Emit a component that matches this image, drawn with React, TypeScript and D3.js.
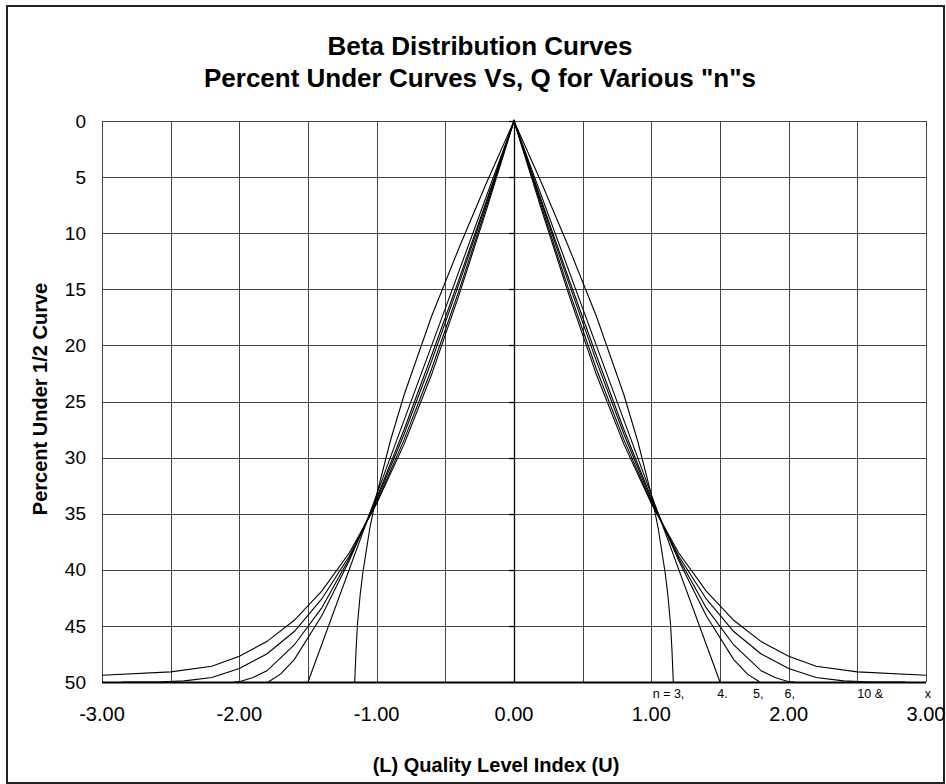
import * as d3 from "d3";

// quality index (Q) and percent under the half curve (right half; left is the mirror)
const q3 = [0, 0.2, 0.4, 0.6, 0.8, 0.9, 1.0, 1.05, 1.1, 1.12, 1.14, 1.15, 1.16];
const p3 = [0, 5.5, 11.3, 17.4, 24.4, 28.5, 33.3, 36.3, 40.2, 42.2, 44.9, 47.1, 50];

const q4 = [0, 0.5, 1.0, 1.5];
const p4 = [0, 16.7, 33.3, 50];

const q5 = [0, 0.2, 0.4, 0.6, 0.8, 1.0, 1.2, 1.4, 1.6, 1.7, 1.79];
const p5 = [0, 7.1, 14.1, 20.9, 27.5, 33.6, 39.2, 44.1, 48.0, 49.3, 50];

const q6 = [0, 0.2, 0.4, 0.6, 0.8, 1.0, 1.2, 1.4, 1.6, 1.8, 1.9, 2.0, 2.04];
const p6 = [0, 7.3, 14.5, 21.4, 27.9, 33.8, 39.0, 43.4, 46.7, 49.0, 49.6, 49.97, 50];

const q10 = [0, 0.2, 0.4, 0.6, 0.8, 1.0, 1.2, 1.4, 1.6, 1.8, 2.0, 2.2, 2.4, 2.6, 2.85];
const p10 = [0, 7.6, 15.1, 22.1, 28.4, 34.0, 38.8, 42.6, 45.5, 47.5, 48.8, 49.6, 49.9, 50, 50];

const qInf = [0, 0.2, 0.4, 0.6, 0.8, 1.0, 1.2, 1.4, 1.6, 1.8, 2.0, 2.2, 2.5, 3.0];
const pInf = [0, 7.9, 15.5, 22.6, 28.8, 34.1, 38.5, 41.9, 44.5, 46.4, 47.7, 48.6, 49.1, 49.4];

const curveQs = [q3, q4, q5, q6, q10, qInf];
const curvePs = [p3, p4, p5, p6, p10, pInf];

const xTickLabels = [-3, -2, -1, 0, 1, 2, 3];
const nLabels = ["n = 3,", "4.", "5,", "6,", "10 &", "x"];
const nLabelQ = [1.01, 1.48, 1.74, 1.97, 2.5, 2.99];

const FONT = "'Liberation Sans', Arial, Helvetica, sans-serif";

const W = 946;
const H = 784;
const margin = { left: 102, right: 926, top: 121, bottom: 682 };

export default function App() {
  const x = d3.scaleLinear().domain([-3, 3]).range([margin.left, margin.right]);
  const y = d3.scaleLinear().domain([0, 50]).range([margin.top, margin.bottom]);
  const xGrid = x.ticks(12);
  const yTicks = y.ticks(10);

  const line = d3
    .line<[number, number]>()
    .x((d) => x(d[0]))
    .y((d) => y(d[1]));

  // mirror each half curve onto the negative side
  const curves = curveQs.map((qs, i) => {
    const ps = curvePs[i];
    const right = qs.map((q, j) => [q, ps[j]] as [number, number]);
    const left = right.slice(1).map(([q, p]) => [-q, p] as [number, number]).reverse();
    return [...left, ...right];
  });

  return (
    <svg
      width={W}
      height={H}
      style={{ position: "absolute", left: 0, top: 0, background: "#fff" }}
      fontFamily={FONT}
    >
      {/* chart border */}
      <rect x={7} y={6} width={937} height={777} fill="none" stroke="#222" strokeWidth={2} />

      {/* title */}
      <text x={480} y={55} textAnchor="middle" fontSize={26} fontWeight="bold">
        Beta Distribution Curves
      </text>
      <text x={480} y={87} textAnchor="middle" fontSize={26} fontWeight="bold">
        Percent Under Curves Vs, Q for Various "n"s
      </text>

      {/* grid */}
      {xGrid.map((t) => (
        <line
          key={"gx" + t}
          x1={Math.round(x(t)) + 0.5}
          x2={Math.round(x(t)) + 0.5}
          y1={margin.top}
          y2={margin.bottom}
          stroke="#444"
          strokeWidth={1}
        />
      ))}
      {yTicks.map((t) => (
        <line
          key={"gy" + t}
          x1={margin.left}
          x2={margin.right}
          y1={Math.round(y(t)) + 0.5}
          y2={Math.round(y(t)) + 0.5}
          stroke="#444"
          strokeWidth={1}
        />
      ))}

      {/* value axis at Q = 0 */}
      <line
        x1={Math.round(x(0)) + 0.5}
        x2={Math.round(x(0)) + 0.5}
        y1={margin.top}
        y2={margin.bottom}
        stroke="#000"
        strokeWidth={1.3}
      />
      {yTicks.map((t) => (
        <line
          key={"tk" + t}
          x1={x(0) - 5}
          x2={x(0)}
          y1={Math.round(y(t)) + 0.5}
          y2={Math.round(y(t)) + 0.5}
          stroke="#000"
          strokeWidth={1.3}
        />
      ))}
      {/* category axis along the bottom */}
      <line
        x1={margin.left}
        x2={margin.right}
        y1={margin.bottom + 0.5}
        y2={margin.bottom + 0.5}
        stroke="#000"
        strokeWidth={2}
      />

      {/* curves */}
      {curves.map((pts, i) => (
        <path key={i} d={line(pts) ?? ""} fill="none" stroke="#000" strokeWidth={1.1} />
      ))}

      {/* y tick labels */}
      {yTicks.map((t) => (
        <text
          key={"yl" + t}
          x={86}
          y={y(t)}
          dy="0.35em"
          textAnchor="end"
          fontSize={19}
        >
          {t}
        </text>
      ))}

      {/* x tick labels */}
      {xTickLabels.map((t) => (
        <text key={"xl" + t} x={x(t)} y={721} textAnchor="middle" fontSize={20}>
          {t.toFixed(2)}
        </text>
      ))}

      {/* n labels */}
      {nLabels.map((s, i) => (
        <text key={"n" + i} x={x(nLabelQ[i])} y={698} fontSize={12.5}>
          {s}
        </text>
      ))}

      {/* axis titles */}
      <text
        transform={`translate(47,399) rotate(-90)`}
        textAnchor="middle"
        fontSize={20}
        fontWeight="bold"
      >
        Percent Under 1/2 Curve
      </text>
      <text x={496} y={772} textAnchor="middle" fontSize={20} fontWeight="bold">
        (L) Quality Level Index (U)
      </text>
    </svg>
  );
}
